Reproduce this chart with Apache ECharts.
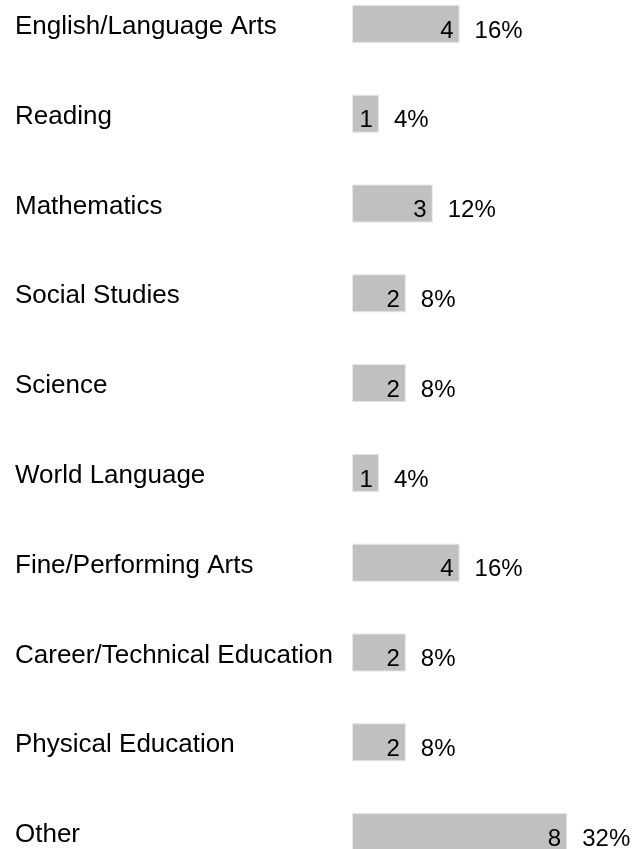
<!DOCTYPE html>
<html>
<head>
<meta charset="utf-8">
<script src="https://cdn.jsdelivr.net/npm/echarts@6/dist/echarts.min.js"></script>
<style>
  html, body { margin: 0; padding: 0; overflow: hidden; background: #fff; }
  #chart { position: absolute; left: 0; top: -21px; width: 639px; height: 898px; }
</style>
</head>
<body>
<div id="chart"></div>
<script>
// subjects and counts
var subjects = [
  "English/Language Arts",
  "Reading",
  "Mathematics",
  "Social Studies",
  "Science",
  "World Language",
  "Fine/Performing Arts",
  "Career/Technical Education",
  "Physical Education",
  "Other"
];
var counts = [4, 1, 3, 2, 2, 1, 4, 2, 2, 8];
var percents = ["16%", "4%", "12%", "8%", "8%", "4%", "16%", "8%", "8%", "32%"];

var chart = echarts.init(document.getElementById("chart"));
var font = "Arial, 'Liberation Sans', sans-serif";

var option = {
  animation: false,
  grid: { left: 352, right: 18, top: 0, bottom: 0 },
  xAxis: {
    type: "value",
    min: 0,
    max: 10,
    show: false
  },
  yAxis: {
    type: "category",
    inverse: true,
    data: subjects,
    axisLine: { show: false },
    axisTick: { show: false },
    splitLine: { show: false },
    axisLabel: {
      align: "left",
      verticalAlign: "top",
      lineHeight: 6,
      margin: 337,
      color: "#000",
      fontSize: 26,
      fontFamily: font
    }
  },
  series: [
    {
      type: "bar",
      data: counts,
      barWidth: 38,
      itemStyle: {
        color: "#c0c0c0",
        borderColor: "#e6e6e6",
        borderWidth: 1
      },
      label: {
        show: true,
        position: "insideRight",
        distance: 6,
        offset: [0, 7],
        color: "#000",
        fontSize: 24,
        fontFamily: font
      }
    },
    {
      // invisible copy, only carries the percent label
      type: "bar",
      data: counts,
      barWidth: 38,
      barGap: "-100%",
      itemStyle: { color: "rgba(0,0,0,0)" },
      silent: true,
      label: {
        show: true,
        position: "right",
        distance: 15,
        offset: [0, 7],
        color: "#000",
        fontSize: 24,
        fontFamily: font,
        formatter: function (p) {
          return percents[p.dataIndex];
        }
      }
    }
  ]
};
chart.setOption(option);
</script>
</body>
</html>
